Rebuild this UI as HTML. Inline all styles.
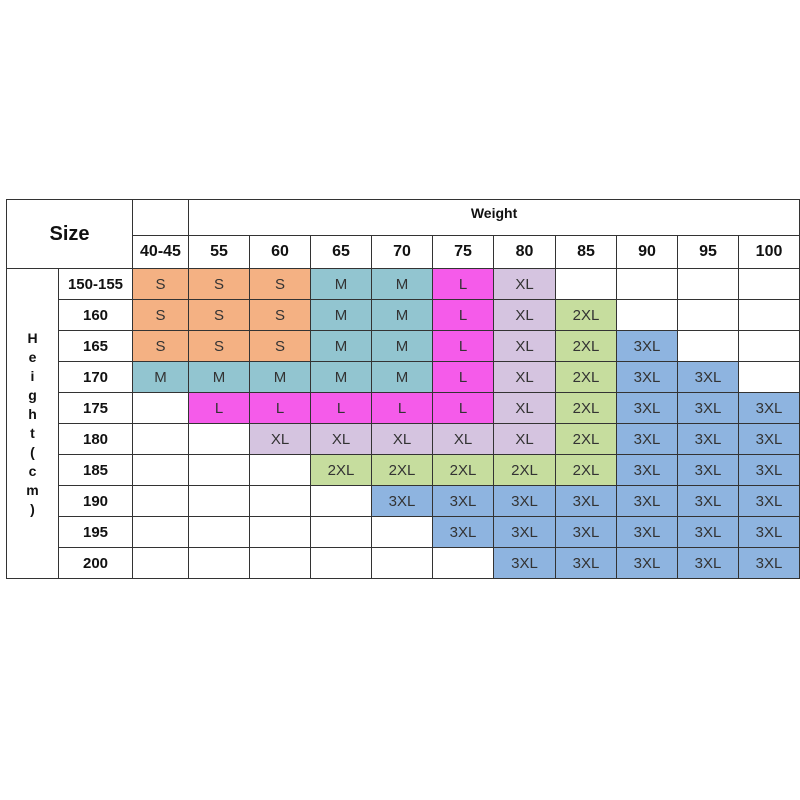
<!DOCTYPE html>
<html><head><style>
body{margin:0;background:#fff;width:800px;height:800px;position:relative;font-family:"Liberation Sans",sans-serif;overflow:hidden;}
table{position:absolute;left:6px;top:199px;border-collapse:collapse;table-layout:fixed;width:792px;}
td{border:1.5px solid #333;text-align:center;padding:0;font-size:15px;color:#333;height:30px;overflow:hidden;}
.h td{font-weight:bold;color:#111;}
.rl{font-weight:bold;color:#111;}
.S{background:#f4b183}.M{background:#92c5d0}.L{background:#f55bea}.X{background:#d5c4e0}.G{background:#c6dd9e}.B{background:#8eb4e0}
.v{font-weight:bold;font-size:14px;line-height:19px;color:#111;}
</style></head><body>
<table>
<colgroup><col style="width:52px"><col style="width:74px"><col style="width:56px"><col style="width:61px"><col style="width:61px"><col style="width:61px"><col style="width:61px"><col style="width:61px"><col style="width:62px"><col style="width:61px"><col style="width:61px"><col style="width:61px"><col style="width:61px"></colgroup>
<tr class="h"><td colspan="2" rowspan="2" style="font-size:20px">Size</td><td style="height:31px"></td><td colspan="10" style="font-size:14px;vertical-align:top;padding-top:5px">Weight</td></tr>
<tr class="h"><td style="height:32px;font-size:16px">40-45</td><td style="font-size:16px">55</td><td style="font-size:16px">60</td><td style="font-size:16px">65</td><td style="font-size:16px">70</td><td style="font-size:16px">75</td><td style="font-size:16px">80</td><td style="font-size:16px">85</td><td style="font-size:16px">90</td><td style="font-size:16px">95</td><td style="font-size:16px">100</td></tr>
<tr><td rowspan="10" class="v">H<br>e<br>i<br>g<br>h<br>t<br>(<br>c<br>m<br>)</td><td class="rl">150-155</td><td class="S">S</td><td class="S">S</td><td class="S">S</td><td class="M">M</td><td class="M">M</td><td class="L">L</td><td class="X">XL</td><td></td><td></td><td></td><td></td></tr>
<tr><td class="rl">160</td><td class="S">S</td><td class="S">S</td><td class="S">S</td><td class="M">M</td><td class="M">M</td><td class="L">L</td><td class="X">XL</td><td class="G">2XL</td><td></td><td></td><td></td></tr>
<tr><td class="rl">165</td><td class="S">S</td><td class="S">S</td><td class="S">S</td><td class="M">M</td><td class="M">M</td><td class="L">L</td><td class="X">XL</td><td class="G">2XL</td><td class="B">3XL</td><td></td><td></td></tr>
<tr><td class="rl">170</td><td class="M">M</td><td class="M">M</td><td class="M">M</td><td class="M">M</td><td class="M">M</td><td class="L">L</td><td class="X">XL</td><td class="G">2XL</td><td class="B">3XL</td><td class="B">3XL</td><td></td></tr>
<tr><td class="rl">175</td><td></td><td class="L">L</td><td class="L">L</td><td class="L">L</td><td class="L">L</td><td class="L">L</td><td class="X">XL</td><td class="G">2XL</td><td class="B">3XL</td><td class="B">3XL</td><td class="B">3XL</td></tr>
<tr><td class="rl">180</td><td></td><td></td><td class="X">XL</td><td class="X">XL</td><td class="X">XL</td><td class="X">XL</td><td class="X">XL</td><td class="G">2XL</td><td class="B">3XL</td><td class="B">3XL</td><td class="B">3XL</td></tr>
<tr><td class="rl">185</td><td></td><td></td><td></td><td class="G">2XL</td><td class="G">2XL</td><td class="G">2XL</td><td class="G">2XL</td><td class="G">2XL</td><td class="B">3XL</td><td class="B">3XL</td><td class="B">3XL</td></tr>
<tr><td class="rl">190</td><td></td><td></td><td></td><td></td><td class="B">3XL</td><td class="B">3XL</td><td class="B">3XL</td><td class="B">3XL</td><td class="B">3XL</td><td class="B">3XL</td><td class="B">3XL</td></tr>
<tr><td class="rl">195</td><td></td><td></td><td></td><td></td><td></td><td class="B">3XL</td><td class="B">3XL</td><td class="B">3XL</td><td class="B">3XL</td><td class="B">3XL</td><td class="B">3XL</td></tr>
<tr><td class="rl">200</td><td></td><td></td><td></td><td></td><td></td><td></td><td class="B">3XL</td><td class="B">3XL</td><td class="B">3XL</td><td class="B">3XL</td><td class="B">3XL</td></tr>
</table>
</body></html>
